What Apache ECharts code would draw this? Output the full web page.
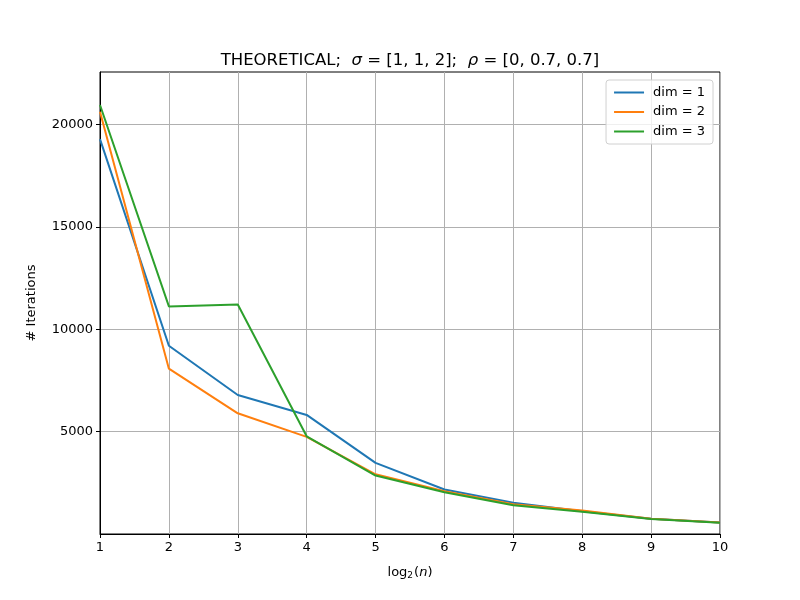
<!DOCTYPE html>
<html>
<head>
<meta charset="utf-8">
<script src="https://cdn.jsdelivr.net/npm/echarts@6/dist/echarts.min.js"></script>
<style>html,body{margin:0;padding:0;background:#fff}#c{width:800px;height:600px}</style>
</head>
<body>
<div id="c"></div>
<script>
const xValues = [1, 2, 3, 4, 5, 6, 7, 8, 9, 10];
const dim1 = [19280, 9195, 6790, 5815, 3473, 2171, 1522, 1112, 741, 561];
const dim2 = [20620, 8073, 5893, 4741, 2917, 2088, 1454, 1150, 745, 561];
const dim3 = [20950, 11112, 11210, 4771, 2854, 2039, 1405, 1090, 735, 555];
const seriesNames = ['dim = 1', 'dim = 2', 'dim = 3'];
const colors = ['#1f77b4', '#ff7f0e', '#2ca02c'];
const yTicks = [5000, 10000, 15000, 20000];

const font = 'DejaVu Sans';
const chart = echarts.init(document.getElementById('c'), null, {renderer: 'canvas'});
const mk = (arr) => xValues.map((x, i) => [x, arr[i]]);
const allData = [dim1, dim2, dim3];
chart.setOption({
  animation: false,
  backgroundColor: '#fff',
  title: {
    text: 'THEORETICAL;  {i|σ} = [1, 1, 2];  {i|ρ} = [0, 0.7, 0.7]',
    left: 405, top: 47, textAlign: 'center',
    textStyle: {
      fontFamily: font, fontSize: 16.5, fontWeight: 'normal', color: '#000',
      rich: {i: {fontFamily: font, fontSize: 16.5, fontStyle: 'italic', color: '#000'}}
    }
  },
  grid: {left: 100, top: 72, width: 620, height: 462, show: true, borderColor: '#000', borderWidth: 1, containLabel: false},
  legend: {
    orient: 'vertical', right: 87, top: 80,
    data: seriesNames,
    icon: 'rect', itemWidth: 30, itemHeight: 2, itemGap: 6.5,
    padding: [6, 8, 6, 8],
    backgroundColor: 'rgba(255,255,255,0.8)', borderColor: '#d0d0d0', borderWidth: 1, borderRadius: 3,
    textStyle: {fontFamily: font, fontSize: 13, color: '#000', padding: [0, 0, 0, 4]}
  },
  xAxis: {
    type: 'value', min: 1, max: 10, interval: 1,
    name: 'log{s|2}({i|n})', nameLocation: 'middle', nameGap: 31,
    nameTextStyle: {fontFamily: font, fontSize: 13, color: '#000',
      rich: {s: {fontFamily: font, fontSize: 9, verticalAlign: 'bottom', padding: [6, 1, 0, 0], color: '#000'},
             i: {fontFamily: font, fontSize: 13, fontStyle: 'italic', color: '#000'}}},
    axisLine: {show: true, lineStyle: {color: '#000', width: 1}},
    axisTick: {show: true, length: 4, lineStyle: {color: '#000'}},
    axisLabel: {fontFamily: font, fontSize: 13, color: '#000', margin: 7},
    splitLine: {show: true, lineStyle: {color: '#b0b0b0', width: 1}}
  },
  yAxis: {
    type: 'value', min: 0, max: 22560, interval: 5000,
    name: '# Iterations', nameLocation: 'middle', nameGap: 62, nameRotate: 90,
    nameTextStyle: {fontFamily: font, fontSize: 13, color: '#000'},
    axisLine: {show: true, lineStyle: {color: '#000', width: 1}},
    axisTick: {show: true, length: 4, lineStyle: {color: '#000'}, customValues: yTicks},
    axisLabel: {fontFamily: font, fontSize: 13, color: '#000', margin: 7, customValues: yTicks,
      formatter: (v) => yTicks.includes(v) ? String(v) : ''},
    splitLine: {show: true, lineStyle: {color: '#b0b0b0', width: 1}}
  },
  series: seriesNames.map((n, k) => ({
    name: n, type: 'line', data: mk(allData[k]),
    showSymbol: false, symbol: 'none',
    lineStyle: {color: colors[k], width: 2},
    itemStyle: {color: colors[k]}
  }))
});
</script>
</body>
</html>
